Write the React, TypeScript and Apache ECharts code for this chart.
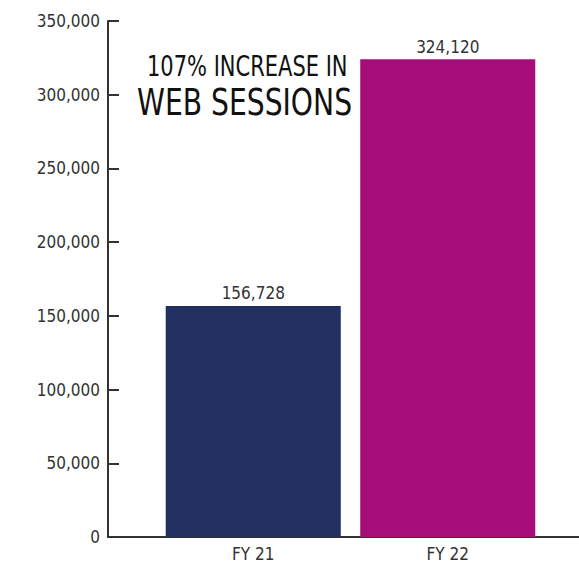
import React, { useEffect, useRef } from "react";
import * as echarts from "echarts";

const categories = ["FY 21", "FY 22"];
const sessions = [156728, 324120];
const barColors = ["#213061", "#a70d78"];
const yTicks = [0, 50000, 100000, 150000, 200000, 250000, 300000, 350000];
const titleLines = ["107% INCREASE IN", "WEB SESSIONS"];

const FONT = "'DejaVu Sans Condensed', 'Liberation Sans Narrow', sans-serif";

export default function App() {
  const ref = useRef<HTMLDivElement>(null);
  useEffect(() => {
    if (!ref.current) return;
    const chart = echarts.init(ref.current, null, { renderer: "svg" });
    const yMin = yTicks[0];
    const yMax = yTicks[yTicks.length - 1];
    const yStep = yTicks[1] - yTicks[0];
    chart.setOption({
      animation: false,
      backgroundColor: "#ffffff",
      grid: [
        { left: 108, right: 0, top: 21, bottom: 27 },
        { left: 156, width: 389, top: 21, bottom: 27 },
      ],
      xAxis: [
        {
          gridIndex: 0,
          type: "value",
          min: 0,
          max: 1,
          axisLine: { show: true, lineStyle: { color: "#333", width: 2 } },
          axisTick: { show: false },
          axisLabel: { show: false },
          splitLine: { show: false },
        },
        {
          gridIndex: 1,
          type: "category",
          data: categories,
          axisLine: { show: false },
          axisTick: { show: false },
          axisLabel: {
            color: "#333",
            fontFamily: FONT,
            fontSize: 17,
            margin: 8,
          },
        },
      ],
      yAxis: [
        {
          gridIndex: 0,
          type: "value",
          min: yMin,
          max: yMax,
          interval: yStep,
          axisLine: { show: true, lineStyle: { color: "#333", width: 2 } },
          axisTick: { show: true, inside: true, length: 11, lineStyle: { color: "#333", width: 2 } },
          axisLabel: {
            color: "#333",
            fontFamily: FONT,
            fontSize: 17,
            margin: 8,
            formatter: (v: number) => v.toLocaleString("en-US"),
          },
          splitLine: { show: false },
        },
        {
          gridIndex: 1,
          type: "value",
          min: yMin,
          max: yMax,
          interval: yStep,
          show: false,
          splitLine: { show: false },
        },
      ],
      series: [
        {
          type: "bar",
          xAxisIndex: 1,
          yAxisIndex: 1,
          barCategoryGap: "10%",
          data: sessions.map((v, i) => ({ value: v, itemStyle: { color: barColors[i] } })),
          label: {
            show: true,
            position: "top",
            distance: 4,
            color: "#333",
            fontFamily: FONT,
            fontSize: 17,
            formatter: (p: any) => Number(p.value).toLocaleString("en-US"),
          },
        },
      ],
      graphic: [
        {
          type: "text",
          x: 147,
          y: 52,
          scaleX: 0.805,
          style: {
            text: titleLines[0],
            fontFamily: FONT,
            fontSize: 29,
            fill: "#111",
            textVerticalAlign: "top",
          },
        },
        {
          type: "text",
          x: 137,
          y: 83,
          scaleX: 0.825,
          style: {
            text: titleLines[1],
            fontFamily: FONT,
            fontSize: 38,
            fill: "#111",
            textVerticalAlign: "top",
          },
        },
      ],
    });
    return () => chart.dispose();
  }, []);
  return <div ref={ref} style={{ width: 579, height: 564, position: "absolute", left: 0, top: 0 }} />;
}
